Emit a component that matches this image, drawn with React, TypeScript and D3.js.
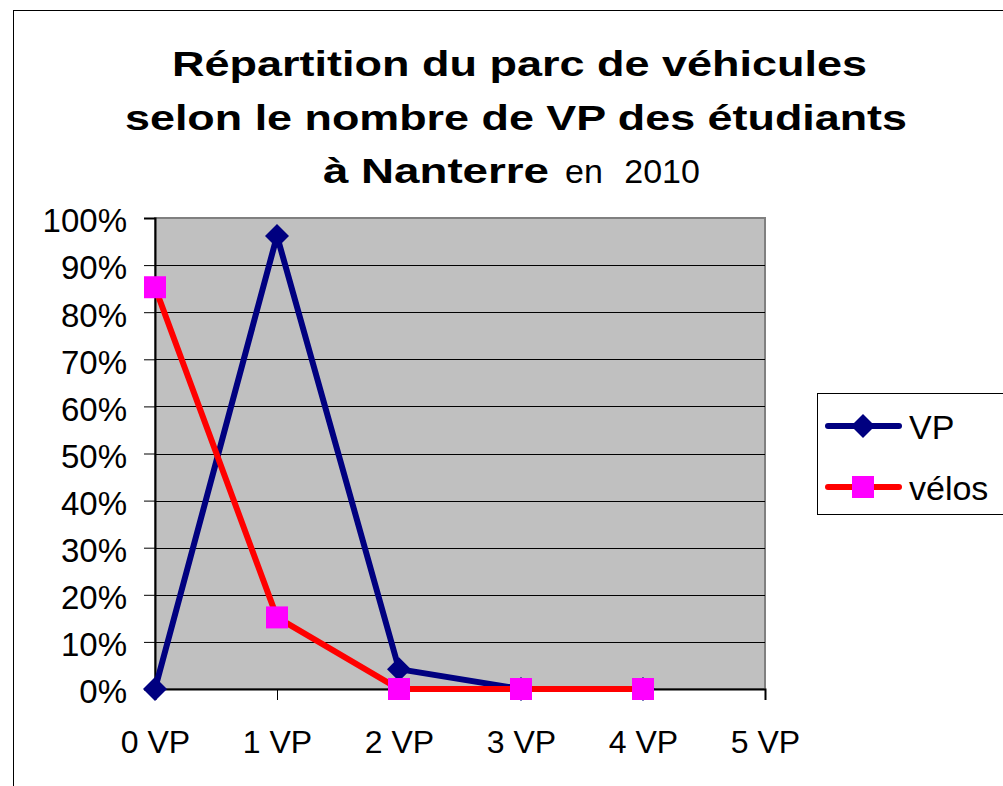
import { useEffect, useRef } from "react";
import * as d3 from "d3";

const categories = ["0 VP", "1 VP", "2 VP", "3 VP", "4 VP", "5 VP"];
const vpValues = [0, 0.962, 0.042, 0, 0];
const veloValues = [0.853, 0.152, 0, 0, 0];
const yTicks = [0, 0.1, 0.2, 0.3, 0.4, 0.5, 0.6, 0.7, 0.8, 0.9, 1];

const series = [
  { name: "VP", values: vpValues, stroke: "#000080", fill: "#000080", marker: "diamond" },
  { name: "vélos", values: veloValues, stroke: "#ff0000", fill: "#ff00ff", marker: "square" },
];

const FONT = "'Liberation Sans', Arial, sans-serif";

function App() {
  const ref = useRef<SVGSVGElement>(null);

  useEffect(() => {
    const svg = d3.select(ref.current);
    svg.selectAll("*").remove();

    const width = 1003;
    const height = 786;
    const plot = { left: 155, right: 765, top: 218, bottom: 689 };

    const x = d3.scalePoint().domain(categories).range([plot.left, plot.right]).padding(0);
    const y = d3.scaleLinear().domain([0, 1]).range([plot.bottom, plot.top]);

    svg.attr("width", width).attr("height", height);

    // outer chart frame
    svg
      .append("rect")
      .attr("x", 13.5)
      .attr("y", 10.5)
      .attr("width", 1000)
      .attr("height", 800)
      .attr("fill", "#fff")
      .attr("stroke", "#000");

    // title
    const title = svg.append("g").attr("font-family", FONT).attr("fill", "#000");
    title
      .append("text")
      .attr("x", 172)
      .attr("y", 76)
      .attr("font-size", 35)
      .attr("font-weight", "bold")
      .attr("textLength", 695)
      .attr("lengthAdjust", "spacingAndGlyphs")
      .text("Répartition du parc de véhicules");
    title
      .append("text")
      .attr("x", 125)
      .attr("y", 130)
      .attr("font-size", 35)
      .attr("font-weight", "bold")
      .attr("textLength", 782)
      .attr("lengthAdjust", "spacingAndGlyphs")
      .text("selon le nombre de VP des étudiants");
    title
      .append("text")
      .attr("x", 323)
      .attr("y", 183)
      .attr("font-size", 35)
      .attr("font-weight", "bold")
      .attr("textLength", 226)
      .attr("lengthAdjust", "spacingAndGlyphs")
      .text("à Nanterre");
    title
      .append("text")
      .attr("x", 565)
      .attr("y", 183)
      .attr("font-size", 34)
      .attr("word-spacing", 12)
      .text("en 2010");

    // plot area
    svg
      .append("rect")
      .attr("x", plot.left)
      .attr("y", plot.top)
      .attr("width", plot.right - plot.left)
      .attr("height", plot.bottom - plot.top)
      .attr("fill", "#c0c0c0")
      .attr("stroke", "#808080")
      .attr("stroke-width", 2);

    // gridlines
    svg
      .append("g")
      .selectAll("line")
      .data(yTicks.slice(1, -1))
      .join("line")
      .attr("x1", plot.left)
      .attr("x2", plot.right)
      .attr("y1", (d) => Math.round(y(d)) + 0.5)
      .attr("y2", (d) => Math.round(y(d)) + 0.5)
      .attr("stroke", "#000")
      .attr("stroke-width", 1);

    // y axis
    const yAxis = svg
      .append("g")
      .attr("transform", `translate(${plot.left},0)`)
      .call(
        d3
          .axisLeft(y)
          .tickValues(yTicks)
          .tickFormat(d3.format(".0%"))
          .tickSize(11)
          .tickPadding(17)
      );
    yAxis.select(".domain").attr("stroke", "#000").attr("stroke-width", 2);
    yAxis.selectAll(".tick line").attr("stroke", "#000");
    yAxis
      .selectAll(".tick text")
      .attr("font-family", FONT)
      .attr("font-size", 33)
      .attr("fill", "#000")
      .attr("dy", "0.42em");

    // x axis
    const xAxis = svg
      .append("g")
      .attr("transform", `translate(0,${plot.bottom})`)
      .call(d3.axisBottom(x).tickSize(11).tickPadding(30));
    xAxis.select(".domain").attr("stroke", "#000").attr("stroke-width", 2);
    xAxis.selectAll(".tick line").attr("stroke", "#000");
    xAxis
      .selectAll(".tick text")
      .attr("font-family", FONT)
      .attr("font-size", 32)
      .attr("fill", "#000");

    const line = d3
      .line<number>()
      .x((_, i) => x(categories[i]) as number)
      .y((d) => y(d));

    const diamond = (s: number) => `M0,${-s}L${s},0L0,${s}L${-s},0Z`;

    series.forEach((s) => {
      const g = svg.append("g");
      g.append("path")
        .attr("d", line(s.values))
        .attr("fill", "none")
        .attr("stroke", s.stroke)
        .attr("stroke-width", 6)
        .attr("stroke-linejoin", "miter");
      g.selectAll("path.m")
        .data(s.values)
        .join("path")
        .attr("class", "m")
        .attr("transform", (d, i) => `translate(${x(categories[i])},${y(d)})`)
        .attr("d", s.marker === "diamond" ? diamond(12) : "M-11,-11H11V11H-11Z")
        .attr("fill", s.fill);
    });

    // legend
    const legend = svg.append("g");
    legend
      .append("rect")
      .attr("x", 817.5)
      .attr("y", 393.5)
      .attr("width", 200)
      .attr("height", 121)
      .attr("fill", "#fff")
      .attr("stroke", "#000");
    series.forEach((s, i) => {
      const ly = 426 + i * 61;
      legend
        .append("line")
        .attr("x1", 828)
        .attr("x2", 899)
        .attr("y1", ly)
        .attr("y2", ly)
        .attr("stroke", s.stroke)
        .attr("stroke-width", 6)
        .attr("stroke-linecap", "round");
      legend
        .append("path")
        .attr("transform", `translate(863,${ly})`)
        .attr("d", s.marker === "diamond" ? diamond(12) : "M-11,-11H11V11H-11Z")
        .attr("fill", s.fill);
      legend
        .append("text")
        .attr("x", 909)
        .attr("y", ly + 13)
        .attr("font-family", FONT)
        .attr("font-size", 34)
        .attr("fill", "#000")
        .text(s.name);
    });
  }, []);

  return (
    <svg
      ref={ref}
      style={{ position: "absolute", left: 0, top: 0, display: "block" }}
    ></svg>
  );
}

export default App;
